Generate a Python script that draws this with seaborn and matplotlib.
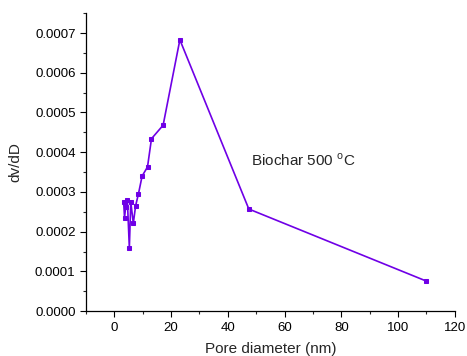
import matplotlib
matplotlib.use("Agg")
import matplotlib.pyplot as plt
from matplotlib.ticker import MultipleLocator, FormatStrFormatter
import seaborn as sns
import pandas as pd

# Pore size distribution (BJH) of biochar pyrolysed at 500 °C
pore_diameter = [3.3, 3.6, 4.0, 4.6, 5.3, 5.8, 6.7, 7.5, 8.5, 9.8,
                 11.7, 13.1, 17.2, 23.1, 47.4, 110.0]
dv_dD = [0.000275, 0.000235, 0.000262, 0.000280, 0.000159, 0.000275,
         0.000221, 0.000265, 0.000295, 0.000340, 0.000363, 0.000434,
         0.000468, 0.000683, 0.000257, 0.0000755]
sample_label = "Biochar 500 $^{\\mathrm{o}}$C"

df = pd.DataFrame({"d": pore_diameter, "v": dv_dD})

sns.set_style("ticks")
plt.rcParams["font.family"] = ["Liberation Sans", "DejaVu Sans"]
plt.rcParams["mathtext.fontset"] = "custom"
plt.rcParams["mathtext.rm"] = "Liberation Sans"

fig = plt.figure(figsize=(4.67, 3.56), dpi=100)
ax = fig.add_axes([0.184, 0.126, 0.79, 0.837])

color = "#6F00E6"
sns.lineplot(data=df, x="d", y="v", sort=False, ax=ax, color=color,
             linewidth=1.2, marker="s", markersize=3.5,
             markeredgecolor=color, markerfacecolor=color)

ax.set_xlim(-10, 120)
ax.set_ylim(0, 0.00075)
ax.xaxis.set_major_locator(MultipleLocator(20))
ax.xaxis.set_minor_locator(MultipleLocator(10))
ax.yaxis.set_major_locator(MultipleLocator(0.0001))
ax.yaxis.set_minor_locator(MultipleLocator(0.00005))
ax.yaxis.set_major_formatter(FormatStrFormatter("%.4f"))

ax.tick_params(which="major", direction="out", length=4, width=0.8,
               labelsize=9.5, colors="black")
ax.tick_params(which="minor", direction="out", length=2.5, width=0.8)

for side in ("top", "right"):
    ax.spines[side].set_visible(False)
for side in ("left", "bottom"):
    ax.spines[side].set_color("black")
    ax.spines[side].set_linewidth(0.9)

ax.set_xlabel("Pore diameter (nm)", fontsize=11, labelpad=6)
ax.set_ylabel("dv/dD", fontsize=11, labelpad=9)

ax.text(48.3, 0.00038, sample_label, fontsize=11, va="center", ha="left")

fig.savefig("out.png", dpi=100)
